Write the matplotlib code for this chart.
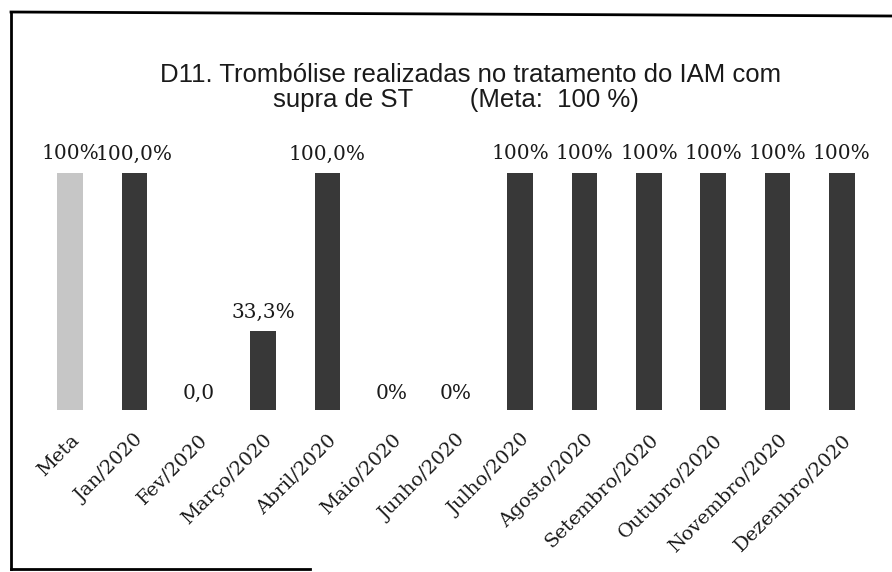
import numpy as np
import matplotlib
matplotlib.use("Agg")
import matplotlib.pyplot as plt
from matplotlib.lines import Line2D

# bar chart: D11 trombolise no IAM com supra de ST, meta 100%

categories = ["Meta", "Jan/2020", "Fev/2020", "Março/2020", "Abril/2020",
              "Maio/2020", "Junho/2020", "Julho/2020", "Agosto/2020",
              "Setembro/2020", "Outubro/2020", "Novembro/2020", "Dezembro/2020"]
values = [100, 100, 0, 33.3, 100, 0, 0, 100, 100, 100, 100, 100, 100]
value_labels = ["100%", "100,0%", "0,0", "33,3%", "100,0%", "0%", "0%",
                "100%", "100%", "100%", "100%", "100%", "100%"]
title_line1 = "D11. Trombólise realizadas no tratamento do IAM com"
title_line2 = "supra de ST        (Meta:  100 %)"

meta_color = "#c6c6c6"
bar_color = "#383838"

fig = plt.figure(figsize=(8.92, 5.72), dpi=100)
ax = fig.add_axes([38 / 892, 162 / 572, 836 / 892, 296 / 572])

x = np.arange(len(categories))
colors = [meta_color] + [bar_color] * (len(categories) - 1)
ax.bar(x, values, width=0.4, color=colors, edgecolor="none")

for xi, v, lab in zip(x, values, value_labels):
    off = 7 if v > 0 else 5
    ax.annotate(lab, (xi, v), xytext=(0, off), textcoords="offset points",
                ha="center", va="bottom", fontsize=14.5,
                family="DejaVu Serif", color="#1a1a1a")

ax.set_xlim(-0.5, len(categories) - 0.5)
ax.set_ylim(0, 125)
ax.set_xticks(x)
ax.set_xticklabels(categories, rotation=45, ha="right", rotation_mode="anchor",
                   fontsize=14, family="DejaVu Serif", color="#1a1a1a")
ax.tick_params(axis="x", length=0, pad=15)
ax.set_yticks([])
for s in ax.spines.values():
    s.set_visible(False)

# title lines, second one sits a bit left like in the original
fig.text(0.527, 1 - 75 / 572, title_line1, ha="center", va="center",
         fontsize=18.5, family="Liberation Sans", color="#1a1a1a")
fig.text(0.511, 1 - 100 / 572, title_line2, ha="center", va="center",
         fontsize=18.5, family="Liberation Sans", color="#1a1a1a")

# outer frame of the scanned page
fig.add_artist(Line2D([11 / 892, 11 / 892], [1 - 12 / 572, 1 - 569 / 572],
                      color="black", lw=2, transform=fig.transFigure))
fig.add_artist(Line2D([11 / 892, 1.0], [1 - 12 / 572, 1 - 16 / 572],
                      color="black", lw=2, transform=fig.transFigure))
fig.add_artist(Line2D([11 / 892, 310 / 892], [1 - 569 / 572, 1 - 569 / 572],
                      color="black", lw=2, transform=fig.transFigure))

fig.savefig("out.png", dpi=100)
